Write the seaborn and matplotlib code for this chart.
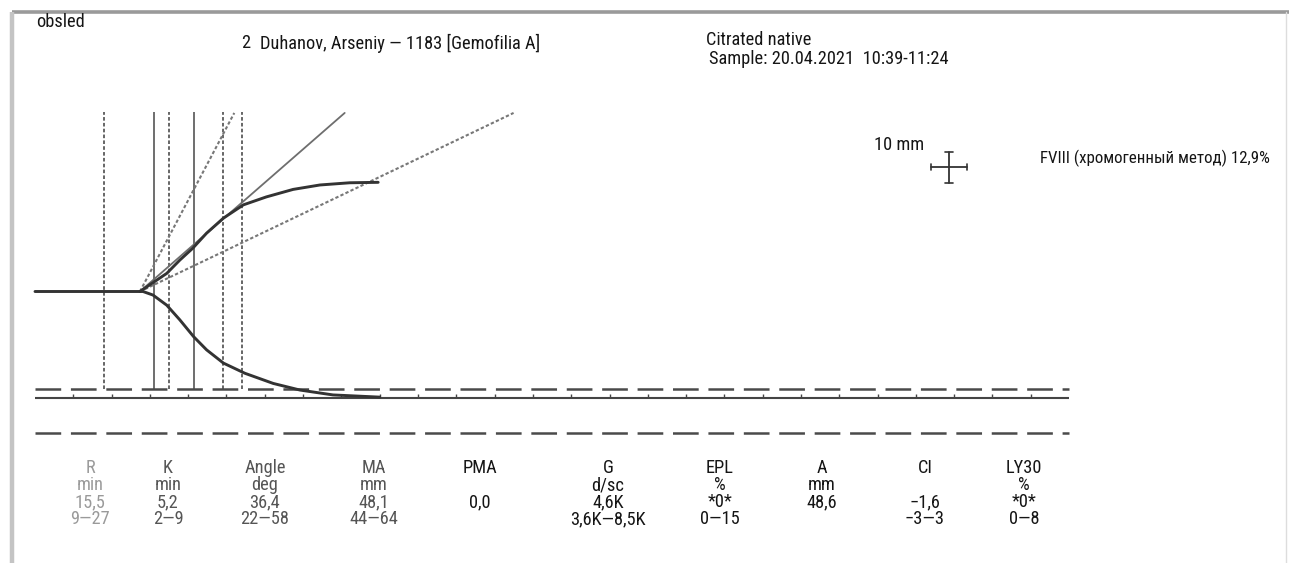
import numpy as np
import pandas as pd
import matplotlib
matplotlib.use("Agg")
import matplotlib.pyplot as plt
from matplotlib import font_manager as fm
import seaborn as sns

# ---------------- data ----------------
# TEG trace (time in min, half-amplitude in mm)
time_upper = [0.0, 13.7, 15.4, 17.2, 18.9, 20.6, 22.4, 24.6, 27.2, 30.2, 33.7, 37.2, 41.1, 44.8]
amp_upper = [0.0, 0.0, 2.0, 4.1, 7.1, 9.8, 13.2, 16.6, 19.6, 21.4, 23.1, 24.1, 24.6, 24.7]
time_lower = [13.7, 14.1, 15.4, 17.2, 18.9, 20.7, 22.4, 24.6, 27.4, 31.1, 34.6, 38.9, 45.0]
amp_lower = [0.0, 0.0, -0.8, -3.1, -6.4, -10.2, -13.2, -16.2, -18.5, -20.8, -22.3, -23.4, -23.9]

# parameters
r_value = 15.5
k_value = 5.2
angle_value = 36.4
ma_value = 48.1
r_range = [9, 27]
k_range = [2, 9]
angle_range = [22, 58]
ma_range = [44, 64]
split_time = 13.7
run_end = 135

param_names = ["R", "K", "Angle", "MA", "PMA", "G", "EPL", "A", "CI", "LY30"]
param_units = ["min", "min", "deg", "mm", "", "d/sc", "%", "mm", "", "%"]
param_values = ["15,5", "5,2", "36,4", "48,1", "0,0", "4,6K", "*0*", "48,6", "\u22121,6", "*0*"]
param_ranges = ["9\u201427", "2\u20149", "22\u201458", "44\u201464", "", "3,6K\u20148,5K",
                "0\u201415", "", "\u22123\u20143", "0\u20148"]

header_id = "Duhanov, Arseniy \u2014 1183 [Gemofilia A]"
header_type = "Citrated native"
header_sample = "Sample: 20.04.2021  10:39-11:24"
note_text = ("FVIII (\u0445\u0440\u043e\u043c\u043e\u0433\u0435\u043d\u043d\u044b\u0439 "
             "\u043c\u0435\u0442\u043e\u0434) 12,9%")

# ---------------- style ----------------
sns.set_theme(style="white")

# choose a condensed sans if one is installed
pref = ["Liberation Sans Narrow", "Roboto Condensed", "Open Sans Condensed",
        "Noto Sans Condensed", "DejaVu Sans Condensed", "Noto Sans", "Open Sans", "Roboto"]
font_name, font_stretch = None, "normal"
cands = []
for f in fm.fontManager.ttflist:
    low = (f.fname + " " + f.name).lower()
    if any(b in low for b in ["bold", "italic", "oblique", "light", "thin", "black",
                              "medium", "semi", "extra"]):
        continue
    st = f.stretch
    is_cond = ("narrow" in low or "condensed" in low or
               (isinstance(st, str) and "condensed" in st) or
               (isinstance(st, (int, float)) and st < 500))
    if is_cond:
        cands.append(f)
for p in pref:
    hits = [f for f in cands if f.name == p]
    if hits:
        font_name, font_stretch = hits[0].name, hits[0].stretch
        break
if font_name is None and cands:
    font_name, font_stretch = cands[0].name, cands[0].stretch
if font_name is None:
    font_name = "Liberation Sans"

plt.rcParams["font.family"] = [font_name, "Liberation Sans", "DejaVu Sans"]
plt.rcParams["font.stretch"] = font_stretch
plt.rcParams["lines.scale_dashes"] = False

W, H = 1289, 563
fig = plt.figure(figsize=(W / 100, H / 100), dpi=100)
fig.patch.set_facecolor("white")

# chart axes: full figure, data units min / mm
PX_MIN = 7.66
PX_MM = 4.42
X0 = 35
Y0 = 291.5
ax = fig.add_axes([0, 0, 1, 1])
ax.set_xlim(-X0 / PX_MIN, (W - X0) / PX_MIN)
ax.set_ylim(-(H - Y0) / PX_MM, Y0 / PX_MM)
ax.axis("off")

curve_col = "#333333"
upper_df = pd.DataFrame({"t": time_upper, "a": amp_upper})
lower_df = pd.DataFrame({"t": time_lower, "a": amp_lower})
sns.lineplot(data=upper_df, x="t", y="a", ax=ax, color=curve_col, lw=2.1,
             sort=False, estimator=None, zorder=5)
sns.lineplot(data=lower_df, x="t", y="a", ax=ax, color=curve_col, lw=2.1,
             sort=False, estimator=None, zorder=5)

# angle tangents
top_mm = 40.4
slope_scale = 2.05
def tangent(angle, **kw):
    s = slope_scale * np.tan(np.radians(angle))
    t_end = split_time + top_mm / s
    ax.plot([split_time, t_end], [0, top_mm], **kw)

tangent(angle_value, color="#6e6e6e", lw=1.3, zorder=4)
for a in angle_range:
    tangent(a, color="#777777", lw=1.5, linestyle=(0, (2.4, 1.6)), zorder=4)

# vertical markers
v_bottom = -ma_range[0] / 2
for tv in [r_value, r_value + k_value]:
    ax.vlines(tv, v_bottom, top_mm + 0.2, color="#555555", lw=1.2, zorder=3)
for tv in [r_range[0], r_range[1], r_value + k_range[0], r_value + k_range[1]]:
    ax.vlines(tv, v_bottom, top_mm + 0.2, color="#4d4d4d", lw=1.2,
              linestyles=[(0, (2.6, 1.6))], zorder=3)

# time axis line at -MA/2 with ticks every 5 min
axis_y = -ma_value / 2
ax.hlines(axis_y, 0, run_end, color="#444444", lw=1.5, zorder=3)
ticks = np.arange(5, run_end, 5)
ax.vlines(ticks, axis_y, axis_y + 0.9, color="#444444", lw=1.0, zorder=3)

# MA normal range dashed lines
for m in ma_range:
    ax.hlines(-m / 2, 0, run_end, color="#4a4a4a", lw=1.8,
              linestyles=[(0, (18.5, 7.0))], zorder=3)

# ---------------- pixel overlay for texts / frame ----------------
ov = fig.add_axes([0, 0, 1, 1], facecolor="none")
ov.set_xlim(0, W)
ov.set_ylim(H, 0)
ov.axis("off")

# size fonts so the patient line spans ~280 px
renderer = fig.canvas.get_renderer()
probe = ov.text(0, 0, header_id, fontsize=12)
wpx = probe.get_window_extent(renderer=renderer).width
probe.remove()
fs_head = min(13.5, 12 * 280 / wpx)
fs_tab = fs_head * 1.0

probe = ov.text(0, 0, note_text, fontsize=12)
wnote = probe.get_window_extent(renderer=renderer).width
probe.remove()
fs_note = min(fs_head, 12 * 230 / wnote)

# scanned page frame
ov.plot([12, W], [12, 12], color="#9a9a9a", lw=2.6, solid_capstyle="butt")
ov.plot([11.5, 11.5], [12, H], color="#c4c4c4", lw=3.2, solid_capstyle="butt")
ov.plot([1286, 1286], [12, H], color="#dddddd", lw=1.0)

tcol = "#151515"
ov.text(36, 22, "obsled", fontsize=fs_head, color=tcol, va="center", ha="left")
ov.text(241, 43, "2", fontsize=fs_head, color=tcol, va="center", ha="left")
ov.text(260, 43, header_id, fontsize=fs_head, color=tcol, va="center", ha="left")
ov.text(706, 40, header_type, fontsize=fs_head, color=tcol, va="center", ha="left")
ov.text(709, 59, header_sample, fontsize=fs_head, color=tcol, va="center", ha="left")
ov.text(874, 145, "10 mm", fontsize=fs_head, color=tcol, va="center", ha="left")
ov.text(1040, 158, note_text, fontsize=fs_note, color=tcol, va="center", ha="left")

# 10 mm scale cross
cx, cy = 949, 167
ov.plot([cx - 18, cx + 18], [cy, cy], color="#333333", lw=1.3)
ov.plot([cx, cx], [cy - 15.5, cy + 15.5], color="#333333", lw=1.3)
ov.plot([cx - 18, cx - 18], [cy - 3, cy + 3], color="#333333", lw=1.2)
ov.plot([cx + 18, cx + 18], [cy - 3, cy + 3], color="#333333", lw=1.2)
ov.plot([cx - 4, cx + 4], [cy - 15.5, cy - 15.5], color="#333333", lw=1.2)
ov.plot([cx - 4, cx + 4], [cy + 15.5, cy + 15.5], color="#333333", lw=1.2)

# parameter table
col_x = [90, 168, 265, 374, 480, 608, 720, 822, 925, 1024]
col_colors = ["#9a9a9a", "#555555", "#555555", "#555555", tcol, tcol, tcol, tcol, tcol, tcol]
row_y = [468, 485, 502, 519]
for i, name in enumerate(param_names):
    for ry, txt in zip(row_y, [name, param_units[i], param_values[i], param_ranges[i]]):
        if txt:
            ov.text(col_x[i], ry, txt, fontsize=fs_tab, color=col_colors[i],
                    ha="center", va="center")

fig.savefig("out.png", dpi=100)
